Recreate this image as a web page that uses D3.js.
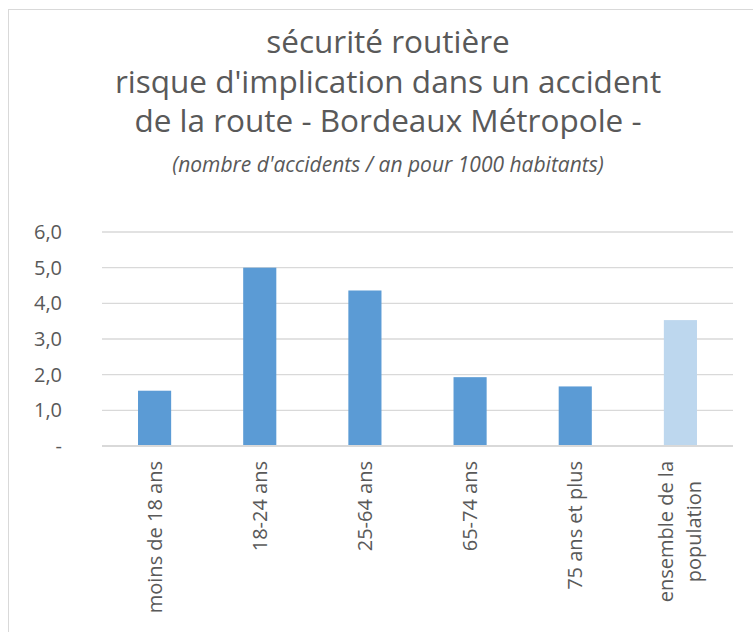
<!DOCTYPE html>
<html>
<head>
<meta charset="utf-8">
<script src="https://cdn.jsdelivr.net/npm/d3@7"></script>
<style>
  body { margin: 0; background: #fff; }
  text { font-family: "Open Sans", "Noto Sans", sans-serif; }
</style>
</head>
<body>
<div id="chart"></div>
<script>
var categories = ["moins de 18 ans", "18-24 ans", "25-64 ans", "65-74 ans", "75 ans et plus", "ensemble de la population"]
var values = [1.55, 5.0, 4.36, 1.93, 1.67, 3.53]
var barColors = ["#5B9BD5", "#5B9BD5", "#5B9BD5", "#5B9BD5", "#5B9BD5", "#BDD7EE"]
var yTicks = [0, 1, 2, 3, 4, 5, 6]
var titleLines = ["sécurité routière", "risque d'implication dans un accident", "de la route - Bordeaux Métropole -"]
var subtitle = "(nombre d'accidents / an pour 1000 habitants)"

var width = 753, height = 632
var plot = { left: 102, right: 733, top: 232, bottom: 446 }

var svg = d3.select("#chart")
    .append("svg")
    .attr("width", width)
    .attr("height", height)

// chart frame (cut off at right and bottom like the original)
svg.append("rect")
    .attr("x", 8.5)
    .attr("y", 9.5)
    .attr("width", 800)
    .attr("height", 700)
    .attr("fill", "none")
    .attr("stroke", "#D9D9D9")

var x = d3.scaleBand()
    .domain(categories)
    .range([plot.left, plot.right])
    .paddingInner(0.685)
    .paddingOuter(0.3425)

var y = d3.scaleLinear()
    .domain([0, 6])
    .range([plot.bottom, plot.top])

// titles
svg.selectAll(".title")
    .data(titleLines)
    .enter()
    .append("text")
    .attr("class", "title")
    .attr("x", 388)
    .attr("y", function (d, i) { return 53 + i * 39.5 })
    .attr("text-anchor", "middle")
    .attr("font-size", 31.5)
    .attr("fill", "#595959")
    .text(function (d) { return d })

svg.append("text")
    .attr("x", 388)
    .attr("y", 172)
    .attr("text-anchor", "middle")
    .attr("font-size", 21)
    .attr("font-style", "italic")
    .attr("fill", "#595959")
    .text(subtitle)

// gridlines
svg.selectAll(".grid")
    .data(yTicks.filter(function (d) { return d > 0 }))
    .enter()
    .append("line")
    .attr("x1", plot.left)
    .attr("x2", plot.right)
    .attr("y1", function (d) { return y(d) })
    .attr("y2", function (d) { return y(d) })
    .attr("stroke", "#D9D9D9")
    .attr("stroke-width", 1.3)

// y axis labels
var yAxis = d3.axisLeft(y)
    .tickValues(yTicks)
    .tickSize(0)
    .tickPadding(0)
    .tickFormat(function (d) { return d === 0 ? "-" : d3.format(".1f")(d).replace(".", ",") })

var yg = svg.append("g")
    .attr("transform", "translate(62,0)")
    .call(yAxis)
yg.select(".domain").remove()
yg.selectAll("text")
    .attr("font-size", 20)
    .attr("fill", "#595959")
    .attr("font-family", "\"Open Sans\", sans-serif")

// bars
svg.selectAll(".bar")
    .data(values)
    .enter()
    .append("rect")
    .attr("class", "bar")
    .attr("x", function (d, i) { return x(categories[i]) })
    .attr("y", function (d) { return y(d) })
    .attr("width", x.bandwidth())
    .attr("height", function (d) { return y(0) - y(d) })
    .attr("fill", function (d, i) { return barColors[i] })

// baseline
svg.append("line")
    .attr("x1", plot.left)
    .attr("x2", plot.right)
    .attr("y1", y(0))
    .attr("y2", y(0))
    .attr("stroke", "#D9D9D9")
    .attr("stroke-width", 2)

// x labels, rotated
function wrapLabel(name) {
    if (name === "ensemble de la population") return ["ensemble de la", "population"]
    return [name]
}

var xl = svg.selectAll(".xlabel")
    .data(categories)
    .enter()
    .append("g")
    .attr("class", "xlabel")
    .attr("transform", function (d) {
        return "translate(" + (x(d) + x.bandwidth() / 2) + "," + 461 + ") rotate(-90)"
    })

xl.each(function (d) {
    var lines = wrapLabel(d)
    var g = d3.select(this)
    lines.forEach(function (line, j) {
        g.append("text")
            .attr("x", 0)
            .attr("y", (j - (lines.length - 1) / 2) * 28 + 7)
            .attr("text-anchor", lines.length > 1 && j === 1 ? "middle" : "end")
            .attr("font-size", 20)
            .attr("fill", "#595959")
            .text(line)
    })
})

// center second line of wrapped label under the first
xl.each(function (d) {
    var texts = d3.select(this).selectAll("text").nodes()
    if (texts.length > 1) {
        var w = texts[0].getComputedTextLength()
        d3.select(texts[1]).attr("x", -w / 2)
    }
})
</script>
</body>
</html>
